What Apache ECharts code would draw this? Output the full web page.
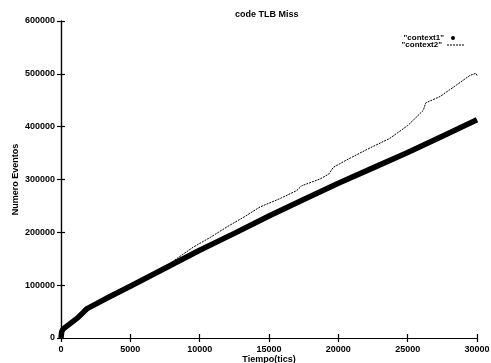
<!DOCTYPE html>
<html>
<head>
<meta charset="utf-8">
<script src="https://cdn.jsdelivr.net/npm/echarts@6/dist/echarts.min.js"></script>
<style>html,body{margin:0;padding:0;background:#fff}#c{width:491px;height:363px}</style>
</head>
<body>
<div id="c"></div>
<script>
const titleText = 'code TLB Miss';
const xName = 'Tiempo(tics)';
const yName = 'Numero Eventos';
const seriesNames = ['"context1"', '"context2"'];

const c1X = [0, 50, 150, 400, 800, 1200, 1850, 2500, 3500, 5000, 7500, 10000, 12500, 15000, 17500, 20000, 22500, 25000, 27500, 30000];
const c1Y = [0, 12000, 17000, 22000, 30000, 38000, 55000, 64000, 78000, 98000, 132000, 166000, 198000, 231000, 262000, 293000, 322000, 351000, 382000, 413000];

const c2X = [0, 50, 150, 400, 800, 1200, 1850, 2500, 3500, 5000, 7500, 8220, 9540, 10800, 11950, 13200, 14350, 15800, 17000, 17350, 18680, 19300, 19640, 20600, 22000, 23720, 25000, 26130, 26300, 27330, 28530, 29490, 29920, 30000];
const c2Y = [0, 12000, 17000, 22000, 30000, 38000, 55000, 64000, 78000, 98000, 132000, 148000, 172000, 191000, 210000, 229000, 248000, 264000, 279000, 288000, 301000, 310000, 323000, 337000, 356000, 378000, 402000, 431000, 445000, 457000, 479000, 497000, 501000, 497000];

const FONT = 'Liberation Sans, Arial, sans-serif';
const pair = (xs, ys) => xs.map((x, i) => [x, ys[i]]);

const chart = echarts.init(document.getElementById('c'), null, {renderer: 'canvas'});
const axisLine = {show: true, lineStyle: {color: '#000', width: 1.2}};
const tick = {show: true, inside: true, length: 4, lineStyle: {color: '#000', width: 1.2}};
const lbl = {color: '#000', fontSize: 9, fontWeight: 'bold', fontFamily: FONT, formatter: v => String(v)};
const legText = {color: '#000', fontSize: 8, fontWeight: 'bold', fontFamily: FONT, lineHeight: 7};
const dashIcon = 'path://M0,0h2v1h-2z M3,0h2v1h-2z M6,0h2v1h-2z M9,0h2v1h-2z M12,0h2v1h-2z M15,0h2v1h-2z';
chart.setOption({
  backgroundColor: '#fff',
  animation: false,
  title: {text: titleText, left: 230, top: 5, textStyle: {color: '#000', fontSize: 9, fontWeight: 'bold', fontFamily: FONT}},
  legend: [
    {orient: 'vertical', right: 31, top: 29, align: 'right', itemWidth: 8, itemHeight: 4,
     textStyle: legText,
     data: [{name: seriesNames[0], icon: 'circle', itemStyle: {color: '#000'}}]},
    {orient: 'vertical', right: 22, top: 36, align: 'right', itemWidth: 17, itemHeight: 1.2,
     textStyle: legText,
     data: [{name: seriesNames[1], icon: dashIcon, itemStyle: {color: '#000'}}]}
  ],
  grid: {left: 61, right: 14, top: 21, bottom: 25, outerBoundsMode: 'none', containLabel: false},
  xAxis: [
    {type: 'value', min: 0, max: 30000, interval: 5000, position: 'bottom',
     axisLine: axisLine, axisTick: tick, splitLine: {show: false},
     axisLabel: Object.assign({margin: 7}, lbl),
     name: xName, nameLocation: 'middle', nameGap: 17, nameMoveOverlap: false,
     nameTextStyle: {color: '#000', fontSize: 9, fontWeight: 'bold', fontFamily: FONT}},
    {type: 'value', min: 0, max: 30000, interval: 5000, position: 'top',
     axisLine: axisLine, axisTick: tick, splitLine: {show: false}, axisLabel: {show: false}}
  ],
  yAxis: [
    {type: 'value', min: 0, max: 600000, interval: 100000, position: 'left',
     axisLine: axisLine, axisTick: tick, splitLine: {show: false},
     axisLabel: Object.assign({margin: 6}, lbl),
     name: yName, nameLocation: 'middle', nameGap: 41, nameRotate: 90, nameMoveOverlap: false,
     nameTextStyle: {color: '#000', fontSize: 9, fontWeight: 'bold', fontFamily: FONT}},
    {type: 'value', min: 0, max: 600000, interval: 100000, position: 'right',
     axisLine: axisLine, axisTick: tick, splitLine: {show: false}, axisLabel: {show: false}}
  ],
  series: [
    {name: seriesNames[1], type: 'line', data: pair(c2X, c2Y), symbol: 'none', z: 2,
     itemStyle: {color: '#000'},
     lineStyle: {color: '#000', width: 1, type: [2, 1]}},
    {name: seriesNames[0], type: 'line', data: pair(c1X, c1Y), symbol: 'none', z: 3,
     itemStyle: {color: '#000'},
     lineStyle: {color: '#000', width: 5.5}}
  ]
});
</script>
</body>
</html>
